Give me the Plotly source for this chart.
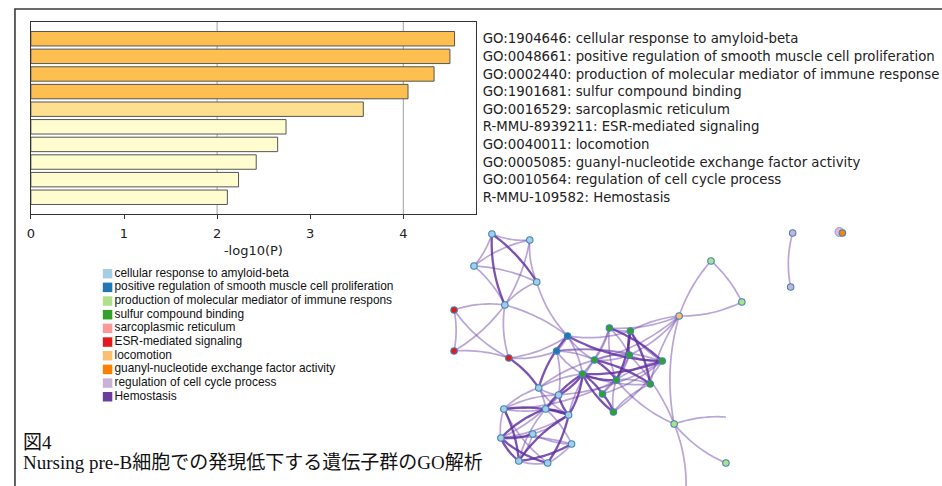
import numpy as np
import plotly.graph_objects as go

# ---- enrichment bar chart -------------------------------------------------
terms = [
    "GO:1904646: cellular response to amyloid-beta",
    "GO:0048661: positive regulation of smooth muscle cell proliferation",
    "GO:0002440: production of molecular mediator of immune response",
    "GO:1901681: sulfur compound binding",
    "GO:0016529: sarcoplasmic reticulum",
    "R-MMU-8939211: ESR-mediated signaling",
    "GO:0040011: locomotion",
    "GO:0005085: guanyl-nucleotide exchange factor activity",
    "GO:0010564: regulation of cell cycle process",
    "R-MMU-109582: Hemostasis",
]
neg_log_p = [4.55, 4.50, 4.33, 4.05, 3.57, 2.74, 2.65, 2.42, 2.23, 2.11]
bar_colors = ["#fdbf50"] * 4 + ["#fedf8f"] + ["#fffdd0"] * 5
x_ticks = [0, 1, 2, 3, 4]

# ---- network legend --------------------------------------------------------
legend_labels = [
    "cellular response to amyloid-beta",
    "positive regulation of smooth muscle cell proliferation",
    "production of molecular mediator of immune respons",
    "sulfur compound binding",
    "sarcoplasmic reticulum",
    "ESR-mediated signaling",
    "locomotion",
    "guanyl-nucleotide exchange factor activity",
    "regulation of cell cycle process",
    "Hemostasis",
]
legend_colors = ["#a6cee3", "#1f78b4", "#b2df8a", "#33a02c", "#fb9a99",
                 "#e31a1c", "#fdbf6f", "#ff7f00", "#cab2d6", "#6a3d9a"]

# ---- network layout (canvas pixels) ---------------------------------------
node_x = [490, 528, 472, 535, 503, 452, 452, 507, 566, 555,
          608, 629, 628, 661, 593, 581, 615, 649, 601, 612,
          537, 557, 544, 567, 502, 531, 499, 570, 517, 546,
          678, 710, 741, 673, 725, 792, 790, 842, 725, 685]
node_y = [234, 240, 266, 282, 305, 310, 351, 358, 336, 351,
          328, 331, 355, 361, 360, 374, 380, 384, 394, 412,
          388, 395, 409, 415, 409, 434, 438, 444, 461, 463,
          316, 261, 302, 424, 463, 233, 287, 233, 417, 486]
# cluster index into legend_colors; -1 = edge end without a drawn node
node_cluster = [0, 0, 0, 0, 0, 5, 5, 5, 1, 1,
                3, 3, 3, 3, 3, 3, 3, 3, 3, 3,
                0, 0, 0, 0, 0, 0, 0, 0, 0, 0,
                6, 2, 2, 2, 2, 8, 8, 7, -1, -1]

edges = [
    (0, 1, 1), (0, 2, 1), (1, 2, 1), (0, 3, 2), (1, 3, 1), (2, 3, 1),
    (0, 4, 2), (1, 4, 1), (3, 4, 1), (2, 4, 1),
    (4, 5, 1), (4, 6, 1), (4, 7, 1), (4, 8, 1), (3, 8, 1),
    (5, 6, 1), (5, 7, 1), (6, 7, 1), (7, 9, 1), (7, 20, 2), (7, 8, 1),
    (8, 9, 1), (8, 13, 2), (8, 15, 1), (8, 11, 1), (9, 13, 1), (9, 15, 1),
    (9, 21, 1), (8, 20, 2), (9, 14, 1), (8, 14, 1), (9, 12, 1),
    (10, 11, 1), (10, 12, 1), (11, 12, 2), (10, 13, 2), (11, 13, 1),
    (10, 15, 1), (12, 13, 1), (13, 15, 2), (13, 16, 1), (12, 16, 1),
    (15, 16, 2), (15, 18, 2), (16, 18, 1), (13, 18, 1), (16, 19, 1),
    (18, 19, 2), (15, 19, 2), (14, 17, 2), (14, 12, 1), (14, 16, 2),
    (17, 16, 1), (11, 17, 2), (12, 14, 1), (11, 16, 2), (17, 19, 1),
    (10, 14, 1), (10, 16, 1), (13, 19, 1), (15, 17, 1), (12, 18, 1),
    (10, 30, 1), (11, 30, 1), (14, 30, 1), (17, 30, 1), (12, 30, 1),
    (30, 31, 1), (30, 32, 1), (31, 32, 1),
    (30, 33, 1), (12, 33, 1), (16, 33, 1), (33, 38, 1), (33, 34, 1), (33, 39, 1),
    (20, 21, 1), (20, 22, 1), (20, 23, 1), (21, 22, 1), (21, 23, 2),
    (22, 23, 2), (21, 24, 1), (22, 24, 1), (23, 24, 2), (23, 25, 1),
    (22, 26, 2), (23, 26, 1), (24, 26, 1), (25, 26, 2), (25, 27, 1),
    (26, 27, 1), (26, 28, 2), (27, 28, 2), (26, 29, 2), (27, 29, 1),
    (28, 29, 1), (23, 29, 2), (22, 28, 1), (25, 28, 1), (23, 28, 2),
    (24, 28, 2), (20, 24, 1), (21, 26, 1), (24, 29, 1), (22, 27, 1),
    (21, 15, 2), (22, 15, 2), (23, 15, 2), (20, 15, 1), (24, 16, 1), (23, 14, 1),
    (21, 13, 1), (20, 14, 1),
    (35, 36, 1),
]

W, H = 942, 486
fig = go.Figure()


def curve(p, q, bend, n=14):
    """Quadratic Bezier between two node positions."""
    p, q = np.asarray(p, float), np.asarray(q, float)
    d = q - p
    length = np.hypot(*d)
    if length == 0:
        return [p[0]], [p[1]]
    normal = np.array([-d[1], d[0]]) / length
    ctrl = (p + q) / 2 + normal * bend * length
    t = np.linspace(0, 1, n)[:, None]
    pts = (1 - t) ** 2 * p + 2 * (1 - t) * t * ctrl + t ** 2 * q
    return list(pts[:, 0]), list(pts[:, 1])


# network first, on a full-canvas pixel subplot
edge_style = {
    1: dict(color="rgba(115,75,175,0.5)", width=1.7),
    2: dict(color="rgba(95,45,160,0.82)", width=2.3),
}
for w, style in edge_style.items():
    ex, ey = [], []
    for k, (a, b, wt) in enumerate(edges):
        if wt != w:
            continue
        bend = 0.12 if k % 2 == 0 else -0.10
        cx, cy = curve((node_x[a], node_y[a]), (node_x[b], node_y[b]), bend)
        ex += cx + [None]
        ey += cy + [None]
    fig.add_trace(go.Scatter(
        x=ex, y=ey, mode="lines", line=dict(shape="spline", **style),
        xaxis="x2", yaxis="y2", showlegend=False, hoverinfo="skip",
    ))

# halo behind the isolated orange node
fig.add_trace(go.Scatter(
    x=[node_x[37] - 3], y=[node_y[37] - 1], mode="markers",
    marker=dict(size=9, color="rgba(202,178,214,0.8)",
                line=dict(color="rgba(150,130,190,0.8)", width=1)),
    xaxis="x2", yaxis="y2", showlegend=False, hoverinfo="skip",
))

shown = [i for i, c in enumerate(node_cluster) if c >= 0]
fig.add_trace(go.Scatter(
    x=[node_x[i] for i in shown], y=[node_y[i] for i in shown],
    mode="markers",
    marker=dict(size=6.5, color=[legend_colors[node_cluster[i]] for i in shown],
                line=dict(color="#3f86b8", width=1.1)),
    xaxis="x2", yaxis="y2", showlegend=False, hoverinfo="skip",
))

# network legend: colour swatches with labels
leg_x0, leg_y0, leg_dy = 104, 273.7, 13.67
fig.add_trace(go.Scatter(
    x=[leg_x0] * len(legend_labels),
    y=[leg_y0 + i * leg_dy for i in range(len(legend_labels))],
    mode="markers+text",
    marker=dict(symbol="square", size=9.5, color=legend_colors, line=dict(width=0)),
    text=legend_labels, textposition="middle right",
    textfont=dict(family="Liberation Sans, Arial", size=11.9, color="#111"),
    xaxis="x2", yaxis="y2", showlegend=False, hoverinfo="skip",
))

# bars
fig.add_trace(go.Bar(
    x=neg_log_p, y=list(range(len(terms))), orientation="h",
    width=0.82,
    marker=dict(color=bar_colors, line=dict(color="#555555", width=1)),
    xaxis="x", yaxis="y", showlegend=False, hoverinfo="skip",
))

# gridlines of the bar chart at 2 and 4
shapes = [
    dict(type="line", xref="x", yref="y domain", x0=g, x1=g, y0=0, y1=1,
         line=dict(color="#b0b0b0", width=1.2), layer="below")
    for g in (2, 4)
]
# outer panel frame (left and top edges)
shapes.append(dict(type="path", xref="paper", yref="paper",
                   path=f"M {11/W} 0 L {11/W} {1-9/H} L 1 {1-9/H}",
                   line=dict(color="#3a3a3a", width=1.6)))

caption_font = dict(family="Liberation Serif, Noto Sans CJK JP", size=19, color="#111")
annotations = [
    dict(text="図4", xref="paper", yref="paper", x=17 / W, y=1 - 442 / H,
         xanchor="left", yanchor="middle", showarrow=False, font=caption_font),
    dict(text="Nursing pre-B細胞での発現低下する遺伝子群のGO解析",
         xref="paper", yref="paper", x=17 / W, y=1 - 462 / H,
         xanchor="left", yanchor="middle", showarrow=False, font=caption_font),
]

tick_font = dict(family="DejaVu Sans", size=13, color="#222")
label_font = dict(family="DejaVu Sans", size=13.3, color="#222")
fig.update_layout(
    width=W, height=H, margin=dict(l=0, r=0, t=0, b=0),
    paper_bgcolor="white", plot_bgcolor="rgba(0,0,0,0)",
    shapes=shapes, annotations=annotations,
    xaxis=dict(domain=[27 / W, 474 / W], range=[0, 4.78], anchor="y",
               tickvals=x_ticks, ticks="outside", ticklen=4, tickcolor="#333",
               showgrid=False, zeroline=False,
               showline=True, linecolor="#333", linewidth=1.2, mirror=True,
               tickfont=tick_font, ticklabelstandoff=3,
               title=dict(text="-log10(P)", font=tick_font, standoff=6)),
    yaxis=dict(domain=[1 - 214 / H, 1 - 22 / H], range=[9.95, -0.95], anchor="x",
               side="right", tickvals=list(range(len(terms))), ticktext=terms,
               ticks="", showgrid=False, zeroline=False,
               showline=True, linecolor="#333", linewidth=1.2, mirror=True,
               tickfont=label_font, ticklabelstandoff=3),
    xaxis2=dict(domain=[0, 1], range=[0, W], anchor="y2", visible=False, fixedrange=True),
    yaxis2=dict(domain=[0, 1], range=[H, 0], anchor="x2", visible=False, fixedrange=True),
)

fig.write_html("out.html")
